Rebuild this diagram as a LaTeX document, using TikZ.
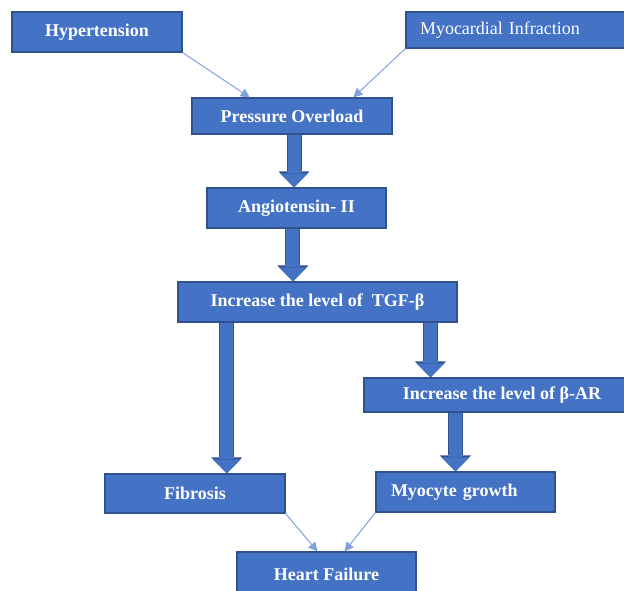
\documentclass[tikz,border=0pt]{standalone}
\usepackage{fontspec}
\setmainfont{Liberation Serif}
\usetikzlibrary{calc}
\usetikzlibrary{arrows.meta}

\definecolor{boxblue}{HTML}{4472C4}
\definecolor{boxedge}{HTML}{2F528F}
\definecolor{linkblue}{HTML}{7FA1DC}

\begin{document}
\begin{tikzpicture}[x=1pt, y=-1pt,
    box/.style={draw=boxedge, fill=boxblue, line width=1.2pt, text=white,
      inner sep=0pt, font=\fontsize{18}{20}\selectfont\bfseries},
    link/.style={draw=linkblue, line width=1pt,
      -{Triangle[length=9pt, width=9pt]}},
    push/.style={draw=boxblue, line width=13pt,
      -{Triangle[length=14pt, width=28pt, line width=0pt]},
      preaction={draw=boxedge, line width=15pt,
        -{Triangle[length=16pt, width=31pt, line width=0pt]}}}
  ]
  \useasboundingbox (0,0) rectangle (624,591);

  \node[box, minimum width=170pt, minimum height=40pt] (hyp) at (97,32) {Hypertension};
  \node[box, minimum height=36pt, inner xsep=14pt, text width=206pt, align=left,
    font=\fontsize{18}{20}\selectfont] (myo) at (523,30) {Myocardial Infraction};
  \node[box, minimum width=200pt, minimum height=36pt] (po) at (292,116) {Pressure Overload};
  \node[box, minimum width=179pt, minimum height=40pt] (ang) at (296.5,208) {Angiotensin- II};
  \node[box, minimum width=279pt, minimum height=40pt] (tgf) at (317.5,302) {Increase the level of \ TGF-β};
  \node[box, minimum width=276pt, minimum height=34pt] (bar) at (502,395) {Increase the level of β-AR};
  \node[box, minimum width=180pt, minimum height=39pt] (fib) at (195,493.5) {Fibrosis};
  \node[box, minimum height=40pt, inner xsep=15pt, text width=149pt, align=left] (myc) at (465.5,492) {Myocyte growth};
  \node[box, minimum width=179pt, minimum height=44pt] (hf) at (326.5,574) {Heart Failure};

  \coordinate (po_in1) at ($(po.north west)!0.29!(po.north east)$);
  \coordinate (po_in2) at ($(po.north west)!0.805!(po.north east)$);
  \coordinate (po_out) at ($(po.south west)!0.51!(po.south east)$);
  \coordinate (ang_out) at ($(ang.south west)!0.48!(ang.south east)$);
  \coordinate (tgf_out1) at ($(tgf.south west)!0.176!(tgf.south east)$);
  \coordinate (tgf_out2) at ($(tgf.south west)!0.903!(tgf.south east)$);
  \coordinate (bar_out) at ([xshift=92pt]bar.south west);
  \coordinate (hf_in1) at ($(hf.north west)!0.45!(hf.north east)$);
  \coordinate (hf_in2) at ($(hf.north west)!0.60!(hf.north east)$);

  \draw[link] (hyp.south east) -- (po_in1);
  \draw[link] (myo.south west) -- (po_in2);
  \draw[push] (po_out) -- (po_out |- ang.north);
  \draw[push] (ang_out) -- (ang_out |- tgf.north);
  \draw[push] (tgf_out1) -- (tgf_out1 |- fib.north);
  \draw[push] (tgf_out2) -- (tgf_out2 |- bar.north);
  \draw[push] (bar_out) -- (bar_out |- myc.north);
  \draw[link] (fib.south east) -- (hf_in1);
  \draw[link] (myc.south west) -- (hf_in2);
\end{tikzpicture}
\end{document}
